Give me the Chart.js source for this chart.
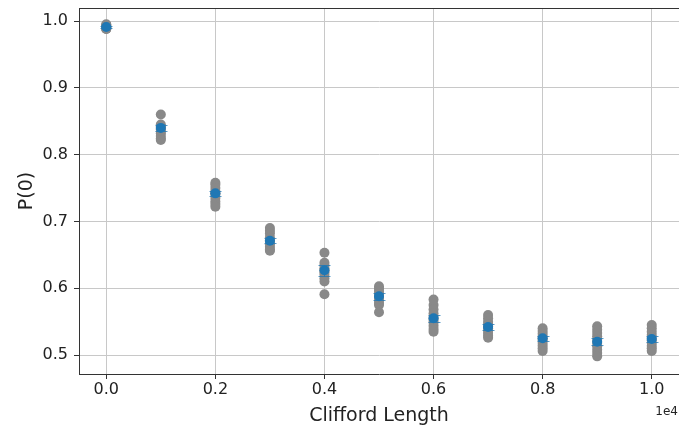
<!DOCTYPE html>
<html>
<head>
<meta charset="utf-8">
<script src="https://cdn.jsdelivr.net/npm/chart.js@4"></script>
<style>
  html, body { margin: 0; padding: 0; background: #fff; }
  #wrap { width: 679px; height: 429px; }
</style>
</head>
<body>
<div id="wrap"><canvas id="rbChart" width="679" height="429"></canvas></div>
<script>
// Clifford lengths (x) and the repeated P(0) measurements at each one
var lengths = [0, 1000, 2000, 3000, 4000, 5000, 6000, 7000, 8000, 9000, 10000];
var samples = [
    [0.995, 0.994, 0.993, 0.992, 0.991, 0.990, 0.990, 0.989, 0.988, 0.988],
    [0.860, 0.845, 0.842, 0.840, 0.838, 0.835, 0.832, 0.828, 0.824, 0.822],
    [0.758, 0.755, 0.750, 0.745, 0.742, 0.740, 0.735, 0.730, 0.726, 0.722],
    [0.690, 0.686, 0.682, 0.676, 0.672, 0.670, 0.666, 0.662, 0.658, 0.656],
    [0.653, 0.638, 0.634, 0.630, 0.627, 0.624, 0.620, 0.615, 0.610, 0.591],
    [0.603, 0.600, 0.596, 0.592, 0.589, 0.586, 0.582, 0.578, 0.575, 0.564],
    [0.583, 0.575, 0.568, 0.562, 0.557, 0.553, 0.549, 0.544, 0.539, 0.535],
    [0.560, 0.555, 0.550, 0.546, 0.543, 0.540, 0.537, 0.533, 0.529, 0.526],
    [0.540, 0.536, 0.532, 0.528, 0.525, 0.522, 0.518, 0.514, 0.510, 0.506],
    [0.543, 0.538, 0.533, 0.528, 0.523, 0.518, 0.513, 0.508, 0.503, 0.498],
    [0.545, 0.540, 0.535, 0.530, 0.526, 0.522, 0.518, 0.514, 0.510, 0.506]
];
var means = [0.991, 0.840, 0.742, 0.671, 0.627, 0.588, 0.555, 0.542, 0.525, 0.520, 0.524];
var errors = [0.002, 0.004, 0.004, 0.004, 0.008, 0.005, 0.005, 0.004, 0.004, 0.005, 0.004];
var xTicks = [0, 2000, 4000, 6000, 8000, 10000];
var yTicks = [0.5, 0.6, 0.7, 0.8, 0.9, 1.0];

var FONT = "'DejaVu Sans', sans-serif";

var grayPoints = [];
lengths.forEach(function (len, i) {
    samples[i].forEach(function (v) { grayPoints.push({ x: len, y: v }); });
});
var meanPoints = lengths.map(function (len, i) { return { x: len, y: means[i] }; });

// error bars under the mean markers, top spine, offset text
var extras = {
    id: 'extras',
    beforeDatasetDraw: function (chart, args) {
        if (args.meta.label !== 'mean') return;
        var ctx = chart.ctx, xs = chart.scales.x, ys = chart.scales.y;
        ctx.save();
        ctx.strokeStyle = 'rgba(31,119,180,0.75)';
        ctx.lineWidth = 1;
        lengths.forEach(function (len, i) {
            var px = Math.round(xs.getPixelForValue(len)) + 0.5;
            var top = Math.round(ys.getPixelForValue(means[i] + errors[i])) + 0.5;
            var bot = Math.round(ys.getPixelForValue(means[i] - errors[i])) + 0.5;
            ctx.beginPath();
            ctx.moveTo(px, top); ctx.lineTo(px, bot);
            ctx.moveTo(px - 6, top); ctx.lineTo(px + 6, top);
            ctx.moveTo(px - 6, bot); ctx.lineTo(px + 6, bot);
            ctx.stroke();
        });
        ctx.restore();
    },
    afterDatasetsDraw: function (chart) {
        var ctx = chart.ctx;
        var a = chart.chartArea;
        ctx.save();
        ctx.strokeStyle = '#333';
        ctx.lineWidth = 1;
        ctx.beginPath();
        ctx.moveTo(a.left, a.top + 0.5); ctx.lineTo(a.right, a.top + 0.5);
        ctx.stroke();
        ctx.fillStyle = '#222';
        ctx.font = '12px ' + FONT;
        ctx.textAlign = 'right';
        ctx.textBaseline = 'middle';
        ctx.fillText('1e4', 678, 412);
        ctx.restore();
    }
};

var rbChart = new Chart(document.getElementById('rbChart'), {
    type: 'scatter',
    data: {
        datasets: [{
            label: 'samples',
            data: grayPoints,
            order: 2,
            pointRadius: 5,
            pointHoverRadius: 5,
            backgroundColor: '#898989',
            borderColor: '#898989',
            borderWidth: 0
        }, {
            label: 'mean',
            data: meanPoints,
            order: 1,
            pointRadius: 5,
            pointHoverRadius: 5,
            backgroundColor: '#1f77b4',
            borderColor: '#1f77b4',
            borderWidth: 0
        }]
    },
    options: {
        responsive: false,
        animation: false,
        layout: { autoPadding: false, padding: { top: 8, right: 0, left: 0, bottom: 0 } },
        plugins: {
            legend: { display: false },
            tooltip: { enabled: false }
        },
        scales: {
            x: {
                type: 'linear',
                min: -500,
                max: 10500,
                afterBuildTicks: function (s) { s.ticks = xTicks.map(function (v) { return { value: v }; }); },
                afterFit: function (s) { s.height = 55; s.paddingLeft = 0; s.paddingRight = 0; },
                ticks: {
                    color: '#222',
                    font: { family: FONT, size: 16 },
                    padding: 1,
                    callback: function (v) { return (v / 10000).toFixed(1); }
                },
                grid: { color: '#c8c8c8', tickColor: '#333', tickLength: 5, lineWidth: 1 },
                border: { color: '#333', width: 1 },
                title: {
                    display: true,
                    text: 'Clifford Length',
                    color: '#222',
                    font: { family: FONT, size: 19 },
                    padding: { top: 0, bottom: 2 }
                }
            },
            y: {
                type: 'linear',
                min: 0.4716,
                max: 1.0195,
                afterBuildTicks: function (s) { s.ticks = yTicks.map(function (v) { return { value: v }; }); },
                afterFit: function (s) { s.width = 79; s.paddingTop = 0; s.paddingBottom = 0; },
                ticks: {
                    color: '#222',
                    font: { family: FONT, size: 16 },
                    padding: 6,
                    callback: function (v) { return v.toFixed(1); }
                },
                grid: { color: '#c8c8c8', tickColor: '#333', tickLength: 5, lineWidth: 1 },
                border: { color: '#333', width: 1 },
                title: {
                    display: true,
                    text: 'P(0)',
                    color: '#222',
                    font: { family: FONT, size: 19 },
                    padding: { top: 16, bottom: 0 }
                }
            }
        }
    },
    plugins: [extras]
});
</script>
</body>
</html>
